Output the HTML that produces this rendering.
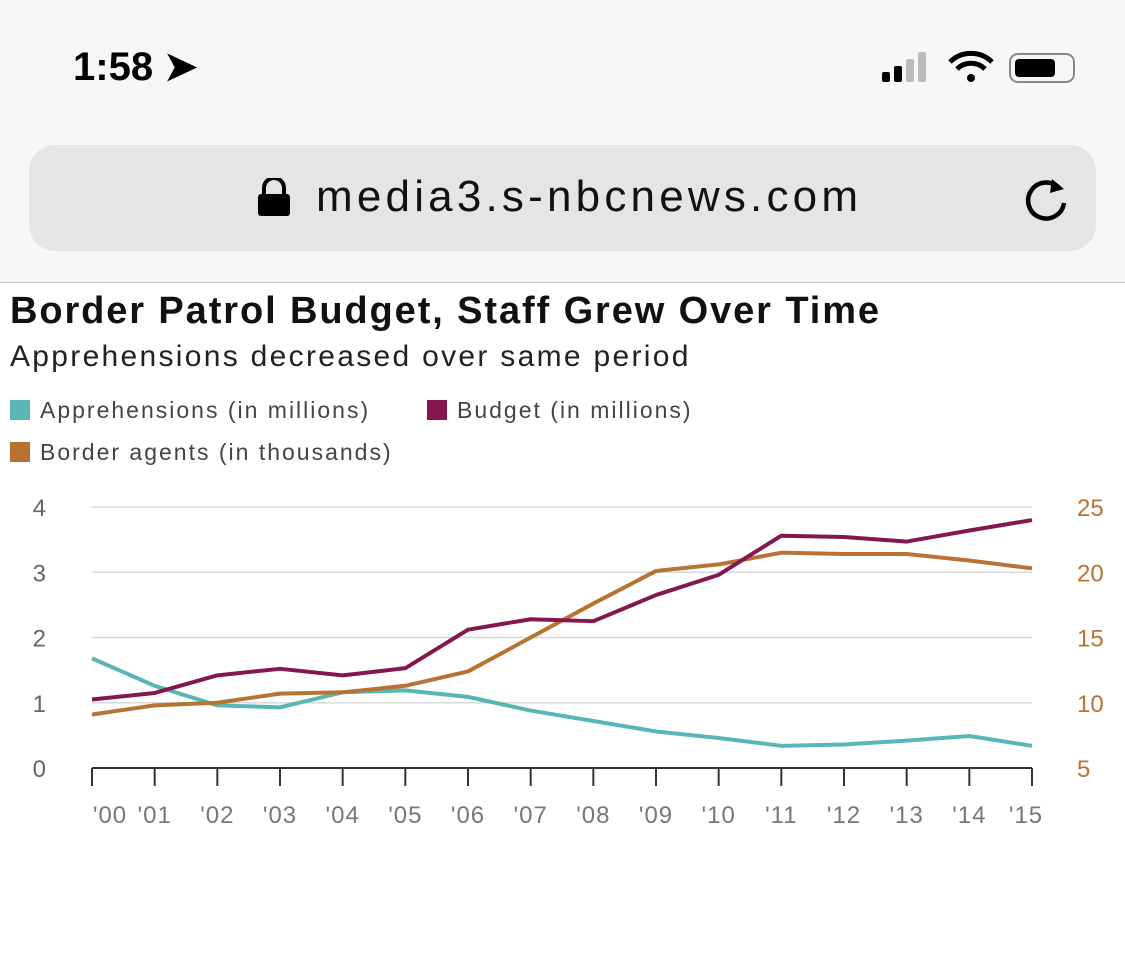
<!DOCTYPE html>
<html><head><meta charset="utf-8">
<style>
body{margin:0;width:1125px;height:959px;background:#fff;font-family:"Liberation Sans",sans-serif;overflow:hidden;position:relative}
.top{position:absolute;left:0;top:0;width:1125px;height:282px;background:#f7f7f7;border-bottom:1px solid #c8c8c8}
.time{position:absolute;left:73px;top:44px;font-size:40px;font-weight:bold;color:#000}
.url{position:absolute;left:29px;top:145px;width:1067px;height:106px;background:#e5e5e8;border-radius:26px}
.urltext{position:absolute;left:316px;top:172px;font-size:44px;color:#111;letter-spacing:4.2px}
.title{position:absolute;left:10px;top:290px;font-size:38px;font-weight:bold;color:#111;letter-spacing:1.9px}
.sub{position:absolute;left:10px;top:340px;font-size:30px;color:#222;letter-spacing:2.3px}
.leg{position:absolute;font-size:23px;color:#444;letter-spacing:2px}
.sw{display:inline-block;width:20px;height:20px;vertical-align:-2px;margin-right:10px}
</style></head><body>
<div class="top">
<div class="time">1:58 ➤</div>
<svg style="position:absolute;left:880px;top:50px" width="200" height="36">
<rect x="2" y="22" width="8" height="10" rx="2" fill="#000"/><rect x="14" y="16" width="8" height="16" rx="2" fill="#000"/><rect x="26" y="9" width="8" height="23" rx="2" fill="#bbb"/><rect x="38" y="2" width="8" height="30" rx="2" fill="#bbb"/>
<path d="M70 12 a30 30 0 0 1 42 0 M77 19 a20 20 0 0 1 28 0" stroke="#000" stroke-width="5" fill="none"/><circle cx="91" cy="28" r="4" fill="#000"/>
<rect x="130" y="4" width="64" height="28" rx="8" fill="none" stroke="#888" stroke-width="2"/><rect x="135" y="9" width="40" height="18" rx="4" fill="#000"/>
</svg>
<div class="url"></div>
<svg style="position:absolute;left:256px;top:178px" width="36" height="40"><path d="M8 16 v-6 a10 10 0 0 1 20 0 v6" stroke="#000" stroke-width="4" fill="none"/><rect x="2" y="16" width="32" height="22" rx="3" fill="#000"/></svg>
<div class="urltext">media3.s-nbcnews.com</div>
<svg style="position:absolute;left:1022px;top:173px" width="50" height="52"><path d="M38 16 A18 18 0 1 0 42 30" stroke="#000" stroke-width="4.5" fill="none"/><path d="M30 6 L42 16 L28 20 Z" fill="#000"/></svg>
</div>
<div class="title">Border Patrol Budget, Staff Grew Over Time</div>
<div class="sub">Apprehensions decreased over same period</div>
<div class="leg" style="left:10px;top:397px"><span class="sw" style="background:#5ab5b5"></span>Apprehensions (in millions)</div>
<div class="leg" style="left:427px;top:397px"><span class="sw" style="background:#84184e"></span>Budget (in millions)</div>
<div class="leg" style="left:10px;top:439px"><span class="sw" style="background:#b87333"></span>Border agents (in thousands)</div>
<svg id="chart" style="position:absolute;left:0;top:0" width="1125" height="959"></svg>
<script>
const years=["'00","'01","'02","'03","'04","'05","'06","'07","'08","'09","'10","'11","'12","'13","'14","'15"];
const leftTicks=[0,1,2,3,4];
const rightTicks=[5,10,15,20,25];
const apprehensions=[1.68,1.26,0.96,0.93,1.16,1.19,1.09,0.88,0.72,0.56,0.46,0.34,0.36,0.42,0.49,0.34];
const budget=[1.05,1.15,1.42,1.52,1.42,1.53,2.12,2.28,2.25,2.65,2.96,3.56,3.54,3.47,3.64,3.80];
const agents=[9.1,9.8,10.0,10.7,10.8,11.3,12.4,15.0,17.6,20.1,20.6,21.5,21.4,21.4,20.9,20.3];
const svg=document.getElementById('chart');const NS='http://www.w3.org/2000/svg';
const x0=92,x1=1032,yB=768,yT=507;
const x=i=>x0+(x1-x0)*i/(years.length-1);
const yL=v=>yB-(yB-yT)*v/4;
const yR=v=>yB-(yB-yT)*(v-5)/20;
function el(t,a){const e=document.createElementNS(NS,t);for(const k in a)e.setAttribute(k,a[k]);svg.appendChild(e);return e;}
leftTicks.forEach((v,i)=>{
 if(v>0){const g=el('line',{x1:x0,x2:x1,y1:yL(v),y2:yL(v),stroke:'#d8d8d8','stroke-width':1.5});
 
 }
 const t=el('text',{x:46,y:yL(v)+9,'text-anchor':'end','font-size':24,fill:'#666','font-family':'Liberation Sans'});t.textContent=v;
 
 
});
rightTicks.forEach(v=>{
 const t=el('text',{x:1077,y:yR(v)+9,'font-size':24,fill:'#b87333','font-family':'Liberation Sans'});t.textContent=v;
 
 
});
const ax=el('line',{x1:x0,x2:x1,y1:yB,y2:yB,stroke:'#333','stroke-width':2});


years.forEach((yr,i)=>{
 const tk=el('line',{x1:x(i),x2:x(i),y1:yB,y2:yB+18,stroke:'#333','stroke-width':2});
 
 
 const t=el('text',{x:x(i)+ (i==0?18:i==years.length-1?-6:0),y:yB+55,'text-anchor':'middle','font-size':24,fill:'#777','font-family':'Liberation Sans','letter-spacing':1});t.textContent=yr;
 
 
});
function line(arr,f,c,n){const p=el('polyline',{points:arr.map((v,i)=>x(i)+','+f(v)).join(' '),fill:'none',stroke:c,'stroke-width':4,'stroke-linejoin':'round'});
 
 }
line(apprehensions,yL,'#5ab5b5','apprehensions-line');
line(agents,yR,'#b87333','agents-line');
line(budget,yL,'#84184e','budget-line');
</script>
</body></html>
